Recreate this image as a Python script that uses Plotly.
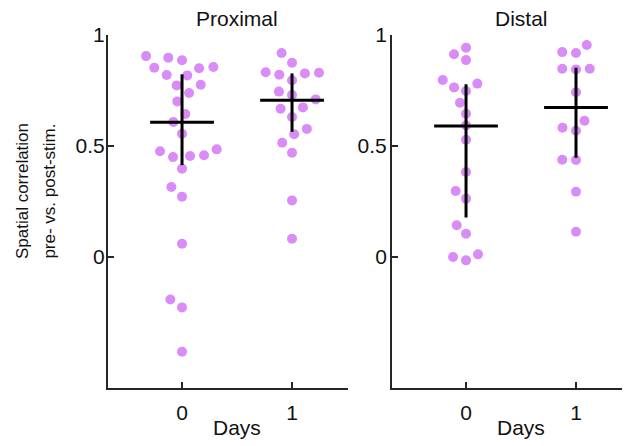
import plotly.graph_objects as go

# ---------------- data ----------------
days = [0, 1]
day_labels = ["0", "1"]
y_ticks = [0, 0.5, 1]
y_tick_labels = ["0", "0.5", "1"]
panel_titles = ["Proximal", "Distal"]

# Proximal, day 0
prox_d0 = [0.905, 0.898, 0.886, 0.853, 0.820, 0.818, 0.850, 0.856, 0.773, 0.776,
           0.739, 0.701, 0.644, 0.608, 0.555, 0.476, 0.450, 0.455, 0.458, 0.485,
           0.398, 0.315, 0.272, 0.060, -0.191, -0.227, -0.427]
prox_d0_jitter = [-0.327, -0.125, 0.0, -0.252, -0.139, 0.048, 0.155, 0.285, -0.048, 0.170,
                  0.064, -0.043, 0.030, -0.079, 0.0, -0.200, -0.082, 0.073, 0.200, 0.315,
                  0.0, -0.097, 0.0, 0.0, -0.106, 0.0, 0.0]
# Proximal, day 1
prox_d1 = [0.919, 0.875, 0.832, 0.821, 0.827, 0.830, 0.796, 0.745, 0.730, 0.710,
           0.668, 0.674, 0.631, 0.577, 0.553, 0.515, 0.470, 0.255, 0.082]
prox_d1_jitter = [-0.095, 0.0, -0.240, -0.116, 0.117, 0.245, 0.0, -0.119, 0.0, 0.215,
                  -0.104, 0.099, 0.0, 0.135, 0.020, -0.089, 0.0, 0.0, 0.0]
# Distal, day 0
dist_d0 = [0.943, 0.913, 0.887, 0.797, 0.764, 0.781, 0.748, 0.695, 0.645, 0.593,
           0.528, 0.383, 0.297, 0.263, 0.143, 0.105, 0.000, -0.015, 0.012]
dist_d0_jitter = [0.0, -0.109, 0.0, -0.212, -0.109, 0.103, 0.0, -0.055, 0.0, 0.0,
                  0.0, 0.0, -0.094, 0.0, -0.085, 0.0, -0.118, 0.0, 0.109]
# Distal, day 1
dist_d1 = [0.923, 0.919, 0.955, 0.848, 0.845, 0.848, 0.742, 0.614, 0.582, 0.569,
           0.438, 0.437, 0.294, 0.114]
dist_d1_jitter = [-0.125, 0.0, 0.098, -0.125, 0.0, 0.125, 0.0, 0.077, -0.123, 0.0,
                  -0.125, 0.0, 0.0, 0.0]

# medians and quartiles (crosshairs)
prox_median = [0.607, 0.706]
prox_q1 = [0.414, 0.564]
prox_q3 = [0.823, 0.827]
dist_median = [0.590, 0.674]
dist_q1 = [0.178, 0.447]
dist_q3 = [0.778, 0.853]

# ---------------- styling ----------------
DOT = "#D98CF7"
AX = "#262626"
FONT = "Arial, Liberation Sans, sans-serif"
HALF_W = 0.29

fig = go.Figure()

panels = [
    ("x", "y", [(prox_d0, prox_d0_jitter), (prox_d1, prox_d1_jitter)], prox_median, prox_q1, prox_q3),
    ("x2", "y2", [(dist_d0, dist_d0_jitter), (dist_d1, dist_d1_jitter)], dist_median, dist_q1, dist_q3),
]

for xa, ya, groups, med, q1, q3 in panels:
    for d, (vals, jit) in zip(days, groups):
        fig.add_trace(go.Scatter(
            x=[d + j for j in jit], y=vals, mode="markers",
            marker=dict(size=10, color=DOT, line=dict(width=0)),
            xaxis=xa, yaxis=ya, showlegend=False, hoverinfo="skip"))
    cx, cy = [], []
    for d, m, lo, hi in zip(days, med, q1, q3):
        cx += [d - HALF_W, d + HALF_W, None, d, d, None]
        cy += [m, m, None, lo, hi, None]
    fig.add_trace(go.Scatter(
        x=cx, y=cy, mode="lines", line=dict(color="black", width=3),
        xaxis=xa, yaxis=ya, showlegend=False, hoverinfo="skip"))

axis_common = dict(showgrid=False, zeroline=False, showline=True, linecolor=AX, linewidth=2,
                   ticks="inside", ticklen=6, tickwidth=2, tickcolor=AX, automargin=False,
                   tickfont=dict(family=FONT, size=21, color="#111111"))

# page body has an 8px margin: figure is sized/offset so it fills the 630x446 window
fig.update_layout(
    width=622, height=438,
    margin=dict(l=100, r=0, t=27, b=58),
    plot_bgcolor="white", paper_bgcolor="white",
    font=dict(family=FONT, size=21, color="#111111"),
    xaxis=dict(domain=[0, 0.4598], range=[-0.673, 1.509], tickvals=days, ticktext=day_labels,
               anchor="y", ticklabelstandoff=5, **axis_common),
    xaxis2=dict(domain=[0.5441, 1], range=[-0.673, 1.491], tickvals=days, ticktext=day_labels,
                anchor="y2", ticklabelstandoff=5, **axis_common),
    yaxis=dict(domain=[0, 1], range=[-0.59, 1.0], tickvals=y_ticks, ticktext=y_tick_labels,
               anchor="x", ticklabelstandoff=-3, **axis_common),
    yaxis2=dict(domain=[0, 1], range=[-0.59, 1.0], tickvals=y_ticks, ticktext=y_tick_labels,
                anchor="x2", ticklabelstandoff=-1, **axis_common),
)

ann = []
for xr, title in zip(["x", "x2"], panel_titles):
    ann.append(dict(x=0.5, xref=xr, y=1.048, yref="paper", text=title, showarrow=False,
                    xanchor="center", yanchor="middle", font=dict(family=FONT, size=21)))
    ann.append(dict(x=0.5, xref=xr, y=-0.113, yref="paper", text="Days", showarrow=False,
                    xanchor="center", yanchor="middle", font=dict(family=FONT, size=21)))
ann.append(dict(x=-0.1648, xref="paper", y=0.297, yref="y", text="Spatial correlation",
                showarrow=False, textangle=-90, xanchor="center", yanchor="middle",
                font=dict(family=FONT, size=17)))
ann.append(dict(x=-0.112, xref="paper", y=0.297, yref="y", text="pre- vs. post-stim.",
                showarrow=False, textangle=-90, xanchor="center", yanchor="middle",
                font=dict(family=FONT, size=17)))
fig.update_layout(annotations=ann)

fig.write_html("out.html")
